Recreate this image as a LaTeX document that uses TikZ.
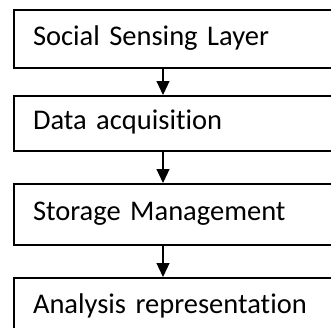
\documentclass[tikz,border=0pt]{standalone}
\usepackage{fontspec}
\setmainfont{Carlito}[Ligatures=NoCommon]
\usetikzlibrary{positioning,arrows.meta}

\begin{document}
\begin{tikzpicture}[x=1pt,y=1pt,
  layer/.style={draw,line width=2pt,text width=320pt,align=left,
    inner xsep=19.5pt,text height=17pt,text depth=5pt,
    font=\fontsize{28.5}{30}\selectfont},
  flow/.style={line width=1.2pt,-{Triangle[length=14pt,width=13pt]}}]

  \useasboundingbox (0,0) rectangle (331,-327);
  \clip (0,0) rectangle (331,-327);

  \coordinate (axis) at (163,0);

  \node[layer,anchor=north west,minimum height=58pt] (social) at (12.5,-9) {Social Sensing Layer};
  \node[layer,minimum height=55pt,below=26pt of social] (data) {Data acquisition};
  \node[layer,minimum height=61pt,below=31pt of data] (storage) {Storage Management};
  \node[layer,minimum height=58pt,below=31pt of storage] (analysis) {Analysis representation};

  % arrows between the layers
  \draw[flow] (social.south -| axis) -- (data.north -| axis);
  \draw[flow] (data.south -| axis) -- (storage.north -| axis);
  \draw[flow] (storage.south -| axis) -- (analysis.north -| axis);

\end{tikzpicture}
\end{document}
